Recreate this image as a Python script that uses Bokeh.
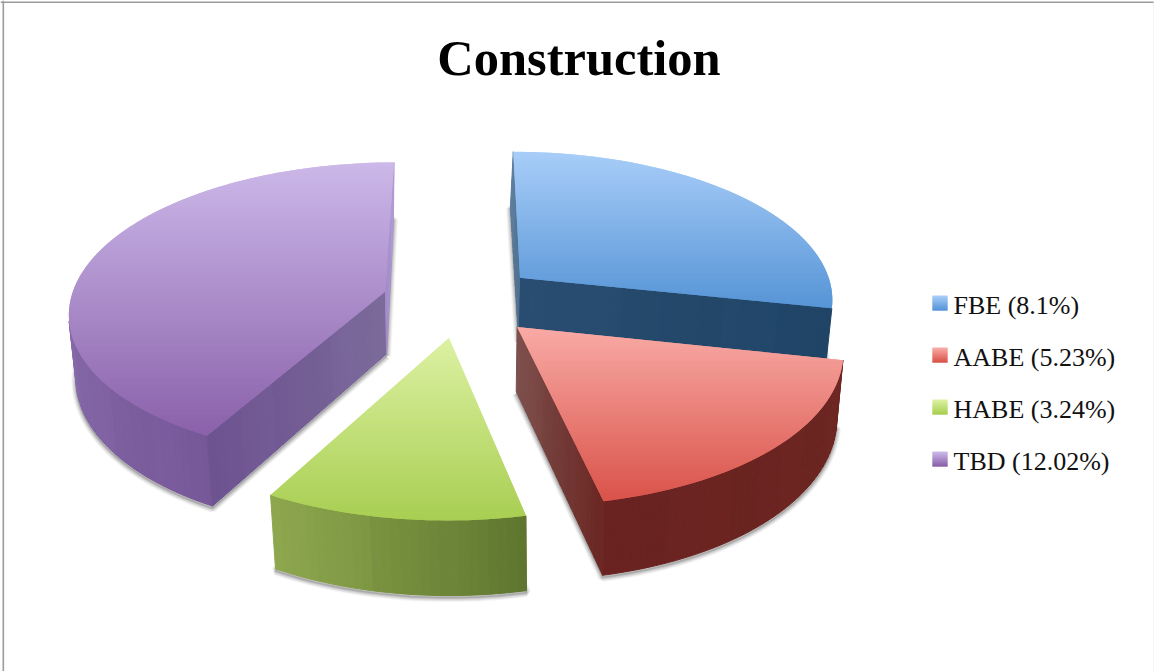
import math
from bokeh.plotting import figure
from bokeh.models import ColumnDataSource
from bokeh.embed import file_html
from bokeh.resources import INLINE
from bokeh.core.properties import value

# chart content
title_text = "Construction"
categories = ["FBE", "AABE", "HABE", "TBD"]
shares = [8.1, 5.23, 3.24, 12.02]

# colours: top gradient (far, near), rim (start, end), start wall (apex, rim), end wall (apex, rim)
top_colors = [("#a8cdf8", "#5694d6"), ("#f9aaa5", "#d9534a"), ("#dcf1a2", "#a8ce52"), ("#ccb8e9", "#8a61aa")]
rim_colors = [("#1f4568", "#1f4568"), ("#6d2622", "#6a2320"), ("#5e762e", "#8fa94f"), ("#765899", "#a88dca")]
start_wall_colors = [("#4f6f8f", "#5f7f9f"), ("#6d2622", "#6d2622"), ("#5e762e", "#5e762e"), ("#7b6a9a", "#6d5290")]
end_wall_colors = [("#294d70", "#1f4466"), ("#7d504d", "#6a2622"), ("#8fa94f", "#8fa94f"), ("#a28cc8", "#b09cd4")]

# projection of the exploded disc
CX, CY = 460.0, 300.0
RX, RY = 315.0, 148.0
PERSPECTIVE = 0.13
EXPLODE = 0.248
DEPTH = 63.0
FLOOR_CX, FLOOR_SCALE = 480.0, 0.982


def project(x, y, lower=False):
    s = 1.0 / (1.0 + PERSPECTIVE * y)
    sx = CX + x * RX * s
    sy = CY - y * RY * s
    if lower:
        sx = FLOOR_CX + (sx - FLOOR_CX) * FLOOR_SCALE - 0.5 - 1.5 * y
        sy += DEPTH * s
    return sx, sy


def hex_rgb(c):
    return tuple(int(c[i:i + 2], 16) for i in (1, 3, 5))


def mix(a, b, t, gain=1.0):
    ra, rb = hex_rgb(a), hex_rgb(b)
    out = [min(255, max(0, round((p + (q - p) * t) * gain))) for p, q in zip(ra, rb)]
    return "#%02x%02x%02x" % tuple(out)


def clip_half(poly, y_edge, keep_below):
    out = []
    for i, (x0, y0) in enumerate(poly):
        x1, y1 = poly[(i + 1) % len(poly)]
        in0 = y0 >= y_edge if keep_below else y0 <= y_edge
        in1 = y1 >= y_edge if keep_below else y1 <= y_edge
        if in0:
            out.append((x0, y0))
        if in0 != in1:
            t = (y_edge - y0) / (y1 - y0)
            out.append((x0 + (x1 - x0) * t, y_edge))
    return out


def signed_area(points):
    total_area = 0.0
    for i, (x0, y0) in enumerate(points):
        x1, y1 = points[(i + 1) % len(points)]
        total_area += x0 * y1 - x1 * y0
    return total_area


p = figure(width=1154, height=671, x_range=(0, 1154), y_range=(671, 0),
           output_backend="svg", toolbar_location=None, min_border=0)
p.axis.visible = False
p.grid.visible = False
p.outline_line_color = None
p.background_fill_color = "#ffffff"
p.border_fill_color = "#ffffff"

# page frame
p.quad(left=[2, 0, 1153], right=[3.6, 1154, 1154], top=[0, 1, 0], bottom=[671, 2.6, 671],
       color=["#9c9c9c", "#9c9c9c", "#ececec"], line_color=None)

total = sum(shares)
face_xs, face_ys, face_colors, face_strokes = [], [], [], []
shadow_xs, shadow_ys = [], []


def add_face(points, color, stroke):
    face_xs.append([q[0] for q in points])
    face_ys.append([q[1] for q in points])
    face_colors.append(color)
    face_strokes.append(stroke)


paint_order = [0, 3, 2, 1]
spans = []
angle = 0.0
for share in shares:
    sweep = share / total * 360.0
    spans.append((angle, angle + sweep))
    angle += sweep

for idx in paint_order:
    a0, a1 = spans[idx]
    mid = math.radians((a0 + a1) / 2)
    ox, oy = EXPLODE * math.sin(mid), EXPLODE * math.cos(mid)
    steps = max(8, int((a1 - a0) / 1.5))
    rim = []
    for k in range(steps + 1):
        a = math.radians(a0 + (a1 - a0) * k / steps)
        rim.append((ox + math.sin(a), oy + math.cos(a)))
    apex = (ox, oy)

    # soft shadow cast by the lower face
    floor = [project(*apex, lower=True)] + [project(*q, lower=True) for q in rim]
    floor.append(floor[0])
    shadow_xs.append([q[0] for q in floor])
    shadow_ys.append([q[1] + 2 for q in floor])

    # side walls that face the viewer, taken in clockwise boundary order;
    # the shade wobbles every few pieces to give broad vertical streaks
    walls = []
    for k in range(steps):
        t = k / max(1, steps - 1)
        stripe = 1.0 + 0.012 * math.sin((k // 4) * 1.9)
        c = mix(rim_colors[idx][0], rim_colors[idx][1], t, stripe)
        walls.append((rim[k], rim[k + 1], c))
    n = 24
    for k in range(n):
        stripe = 1.0 + 0.012 * math.sin((k // 4) * 1.9)
        t0, t1 = k / n, (k + 1) / n
        for wall_rim, palette, forward in ((rim[0], start_wall_colors[idx], True),
                                           (rim[-1], end_wall_colors[idx], False)):
            q0 = (apex[0] + (wall_rim[0] - apex[0]) * t0, apex[1] + (wall_rim[1] - apex[1]) * t0)
            q1 = (apex[0] + (wall_rim[0] - apex[0]) * t1, apex[1] + (wall_rim[1] - apex[1]) * t1)
            c = mix(palette[0], palette[1], t0, stripe)
            walls.append((q0, q1, c) if forward else (q1, q0, c))
    for q0, q1, c in walls:
        quad = [project(*q0), project(*q1), project(*q1, lower=True), project(*q0, lower=True)]
        if signed_area(quad) < 0:
            add_face(quad, c, 1.0)

    # top face as overlapping horizontal bands, painted downward
    poly = [project(*apex)] + [project(*q) for q in rim]
    y_min = min(q[1] for q in poly)
    y_max = max(q[1] for q in poly)
    y = math.floor(y_min)
    while y < y_max:
        band = clip_half(clip_half(poly, y, True), y + 2, False)
        if len(band) >= 3:
            add_face(band, mix(top_colors[idx][0], top_colors[idx][1], (y - y_min) / (y_max - y_min)), 0)
        y += 1

for width, alpha in ((9, 0.05), (7, 0.07), (5, 0.09), (3, 0.12), (1.5, 0.15)):
    p.multi_line(shadow_xs, shadow_ys, line_color="#303030", line_alpha=alpha, line_width=width)
p.patches(xs="xs", ys="ys", fill_color="c", line_color="c", line_width="w",
          source=ColumnDataSource(dict(xs=face_xs, ys=face_ys, c=face_colors, w=face_strokes)))

# legend
sw_left, sw_right = 932.0, 947.0
sw_xs, sw_ys, sw_colors = [], [], []
label_rows = []
for i, name in enumerate(categories):
    top = 295.0 + 52.0 * i
    for k in range(15):
        sw_xs.append([sw_left, sw_right, sw_right, sw_left])
        sw_ys.append([top + k, top + k, top + min(k + 2, 15), top + min(k + 2, 15)])
        sw_colors.append(mix(top_colors[i][0], top_colors[i][1], k / 14))
    label_rows.append(top + 10.0)
p.patches(sw_xs, sw_ys, fill_color=sw_colors, line_color=None)

labels = ColumnDataSource(dict(
    x=[953.0] * len(categories),
    y=label_rows,
    t=[f"{n} ({v}%)" for n, v in zip(categories, shares)],
))
p.text("x", "y", text="t", source=labels, text_font=value("Liberation Serif"),
       text_font_size="26px", text_color="#111111", text_baseline="alphabetic", text_align="left")

p.text([578.5], [57.0], text=[title_text], text_font=value("Liberation Serif"),
       text_font_style="bold", text_font_size="50.5px", text_color="#000000",
       text_baseline="alphabetic", text_align="center")

open("out.html", "w").write(file_html(p, INLINE))
